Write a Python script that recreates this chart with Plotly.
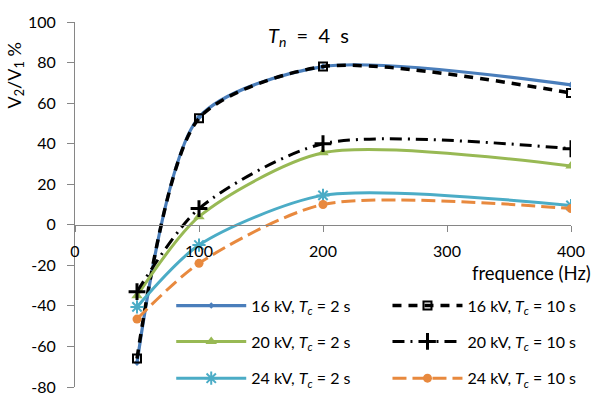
import plotly.graph_objects as go

freq = [50, 100, 200, 400]

v16_tc2 = [-68, 53, 78, 69]
v16_tc10 = [-66, 52.5, 78, 65]
v20_tc2 = [-35, 4, 35.5, 29]
v20_tc10 = [-33, 8, 40, 37.5]
v24_tc2 = [-40.5, -10, 14.5, 9.5]
v24_tc10 = [-46.5, -19, 10, 8]

x_ticks = [0, 100, 200, 300, 400]
y_ticks = [-80, -60, -40, -20, 0, 20, 40, 60, 80, 100]

FONT = "Lato"
BLUE = "#4A7EBB"
GREEN = "#98B954"
TEAL = "#4BACC6"
ORANGE = "#E8893E"
SMOOTH = 0.75

fig = go.Figure()

def add(y, name, legend, color, width, dash, symbol, msize, mcolor=None, mline=None, mlinew=0):
    fig.add_trace(go.Scatter(
        x=freq, y=y, name=name, mode="lines+markers", legend=legend,
        line=dict(color=color, width=width, dash=dash, shape="spline", smoothing=SMOOTH),
        marker=dict(symbol=symbol, size=msize, color=mcolor or color,
                    line=dict(color=mline or color, width=mlinew)),
    ))

def lab(kv, tc):
    return f"{kv} kV, <i>T</i><sub><i>c</i></sub> = {tc} s"

add(v16_tc2, lab(16, 2), "legend", BLUE, 3.2, "solid", "diamond", 5)
add(v16_tc10, lab(16, 10), "legend2", "black", 3.5, "9px,7px", "square-open", 8, mcolor="black", mline="black", mlinew=2)
add(v20_tc2, lab(20, 2), "legend3", GREEN, 3, "solid", "triangle-up", 10)
add(v20_tc10, lab(20, 10), "legend4", "black", 3, "12px,6px,2px,6px", "cross-thin", 12, mcolor="black", mline="black", mlinew=3)
add(v24_tc2, lab(24, 2), "legend5", TEAL, 3, "solid", "asterisk", 11, mline=TEAL, mlinew=2)
add(v24_tc10, lab(24, 10), "legend6", ORANGE, 3, "14px,6px", "circle", 9)

ymin, ymax = -80, 100

col_x = [0.194, 0.63]
row_y = [0.2228, 0.1247, 0.0239]

legends = {}
for i in range(6):
    key = "legend" if i == 0 else f"legend{i + 1}"
    legends[key] = dict(
        orientation="h", x=col_x[i % 2], xanchor="left", y=row_y[i // 2], yanchor="middle",
        itemwidth=70, bgcolor="rgba(255,255,255,0)", font=dict(size=16, family=FONT),
    )

fig.update_layout(
    width=597, height=408,
    margin=dict(l=75, r=23, t=12, b=19),
    paper_bgcolor="white", plot_bgcolor="white",
    font=dict(family=FONT, size=16, color="black"),
    showlegend=True,
    xaxis=dict(
        range=[0, 400], tickvals=x_ticks, ticktext=[str(v) for v in x_ticks],
        showgrid=False, zeroline=False, showline=True, linecolor="#868686", linewidth=1,
        ticks="outside", ticklen=6, tickcolor="#868686",
        anchor="free", position=(0 - ymin) / (ymax - ymin),
        ticklabelstandoff=6, tickfont=dict(size=16),
    ),
    yaxis=dict(
        range=[ymin, ymax], tickvals=y_ticks, ticktext=[str(v) for v in y_ticks],
        showgrid=False, zeroline=False, showline=True, linecolor="#868686", linewidth=1,
        ticks="outside", ticklen=7, tickcolor="#868686", tickfont=dict(size=16),
        ticklabelstandoff=8,
    ),
    annotations=[
        dict(text="<i>T</i><sub><i>n</i></sub>&nbsp; = &nbsp;4&nbsp; s", xref="paper", yref="paper",
             x=0.471, y=0.960, xanchor="center", yanchor="middle", showarrow=False,
             font=dict(size=20, family=FONT)),
        dict(text="V<sub>2</sub>/V<sub>1</sub> %", xref="paper", yref="paper",
             x=-0.12, y=0.855, xanchor="center", yanchor="middle", textangle=-90,
             showarrow=False, font=dict(size=18, family=FONT)),
        dict(text="frequence (Hz)", xref="paper", yref="paper",
             x=1.045, y=0.313, xanchor="right", yanchor="middle", showarrow=False,
             font=dict(size=18.5, family=FONT)),
    ],
    **legends,
)

fig.write_html("out.html")
